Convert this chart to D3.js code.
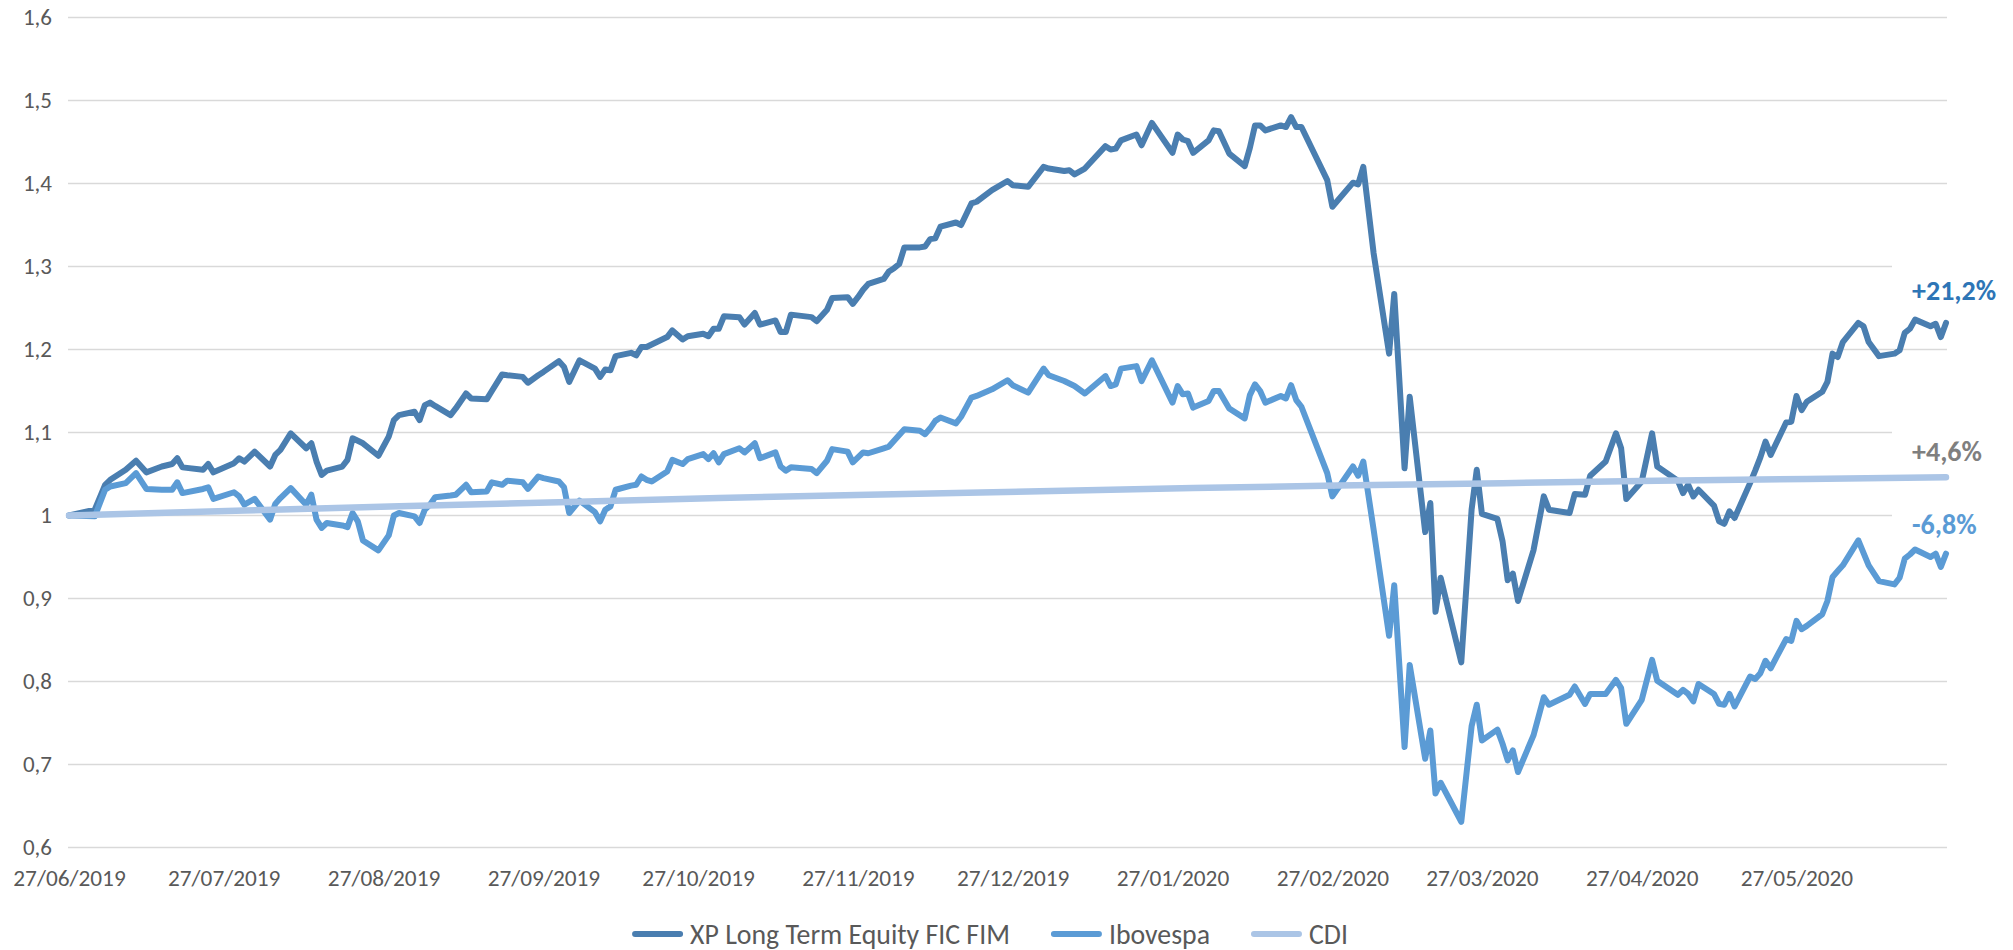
<!DOCTYPE html>
<html>
<head>
<meta charset="utf-8">
<script src="https://cdn.jsdelivr.net/npm/d3@7"></script>
<style>
  body { margin: 0; background: #fff; }
  svg { display: block; font-family: Carlito, Calibri, Lato, "Open Sans", sans-serif; }
</style>
</head>
<body>
<div id="chart"></div>
<script>
// series names (legend order = drawing order)
const seriesNames = ["XP Long Term Equity FIC FIM", "Ibovespa", "CDI"];
const endLabels = ["+21,2%", "-6,8%", "+4,6%"];

// trading days (XP and Ibovespa share the same days)
const dates = [
  "2019-06-27","2019-07-02","2019-07-04","2019-07-05","2019-07-08","2019-07-10","2019-07-12","2019-07-15","2019-07-17","2019-07-18","2019-07-19","2019-07-23","2019-07-24","2019-07-25","2019-07-29","2019-07-30","2019-07-31",
  "2019-08-02","2019-08-05","2019-08-06","2019-08-07","2019-08-09","2019-08-12","2019-08-13","2019-08-14","2019-08-15","2019-08-16","2019-08-19","2019-08-20","2019-08-21","2019-08-22","2019-08-23","2019-08-26","2019-08-28","2019-08-29","2019-08-30",
  "2019-09-02","2019-09-03","2019-09-04","2019-09-05","2019-09-06","2019-09-09","2019-09-10","2019-09-12","2019-09-13","2019-09-16","2019-09-17","2019-09-19","2019-09-20","2019-09-23","2019-09-24","2019-09-26","2019-09-27","2019-09-30",
  "2019-10-01","2019-10-02","2019-10-04","2019-10-07","2019-10-08","2019-10-09","2019-10-10","2019-10-11","2019-10-14","2019-10-15","2019-10-16","2019-10-17","2019-10-18","2019-10-21","2019-10-22","2019-10-24","2019-10-25","2019-10-28","2019-10-29","2019-10-30","2019-10-31",
  "2019-11-01","2019-11-04","2019-11-05","2019-11-07","2019-11-08","2019-11-11","2019-11-12","2019-11-13","2019-11-14","2019-11-18","2019-11-19","2019-11-21","2019-11-22","2019-11-25","2019-11-26","2019-11-27","2019-11-28","2019-11-29",
  "2019-12-02","2019-12-03","2019-12-04","2019-12-05","2019-12-06","2019-12-09","2019-12-10","2019-12-11","2019-12-12","2019-12-13","2019-12-16","2019-12-17","2019-12-19","2019-12-20","2019-12-23","2019-12-26","2019-12-27","2019-12-30",
  "2020-01-02","2020-01-03","2020-01-06","2020-01-07","2020-01-08","2020-01-10","2020-01-14","2020-01-15","2020-01-16","2020-01-17","2020-01-20","2020-01-21","2020-01-23","2020-01-27","2020-01-28","2020-01-29","2020-01-30","2020-01-31",
  "2020-02-03","2020-02-04","2020-02-05","2020-02-07","2020-02-10","2020-02-11","2020-02-12","2020-02-13","2020-02-14","2020-02-17","2020-02-18","2020-02-19","2020-02-20","2020-02-21","2020-02-26","2020-02-27",
  "2020-03-02","2020-03-03","2020-03-04","2020-03-06","2020-03-09","2020-03-10","2020-03-12","2020-03-13","2020-03-16","2020-03-17","2020-03-18","2020-03-19","2020-03-23","2020-03-25","2020-03-26","2020-03-27","2020-03-30","2020-03-31",
  "2020-04-01","2020-04-02","2020-04-03","2020-04-06","2020-04-08","2020-04-09","2020-04-13","2020-04-14","2020-04-16","2020-04-17","2020-04-20","2020-04-22","2020-04-23","2020-04-24","2020-04-27","2020-04-29","2020-04-30",
  "2020-05-04","2020-05-05","2020-05-06","2020-05-07","2020-05-08","2020-05-11","2020-05-12","2020-05-13","2020-05-14","2020-05-15","2020-05-18","2020-05-19","2020-05-20","2020-05-21","2020-05-22","2020-05-25","2020-05-26","2020-05-27","2020-05-28","2020-05-29",
  "2020-06-01","2020-06-02","2020-06-03","2020-06-04","2020-06-05","2020-06-08","2020-06-09","2020-06-10","2020-06-12","2020-06-15","2020-06-16","2020-06-17","2020-06-18","2020-06-19","2020-06-22","2020-06-23","2020-06-24","2020-06-25"
];

const xpValues = [
  1.000,1.007,1.037,1.043,1.055,1.066,1.052,1.059,1.062,1.069,1.058,1.055,1.062,1.052,1.063,1.069,1.065,
  1.077,1.059,1.073,1.079,1.099,1.081,1.087,1.065,1.049,1.054,1.059,1.067,1.093,1.090,1.087,1.072,1.095,1.115,1.121,
  1.125,1.115,1.133,1.136,1.132,1.121,1.129,1.147,1.141,1.140,1.150,1.170,1.169,1.167,1.160,1.169,1.173,1.186,
  1.179,1.161,1.187,1.177,1.167,1.176,1.175,1.192,1.196,1.193,1.203,1.203,1.206,1.215,1.223,1.212,1.216,1.219,1.216,1.225,1.225,
  1.240,1.239,1.230,1.244,1.230,1.235,1.221,1.221,1.242,1.239,1.234,1.248,1.262,1.263,1.255,1.263,1.272,1.279,
  1.285,1.294,1.298,1.303,1.323,1.323,1.324,1.333,1.334,1.348,1.353,1.350,1.376,1.378,1.392,1.403,1.398,1.396,
  1.420,1.418,1.415,1.416,1.411,1.418,1.445,1.441,1.442,1.452,1.459,1.446,1.473,1.437,1.459,1.453,1.451,1.437,
  1.452,1.464,1.463,1.436,1.421,1.443,1.470,1.470,1.464,1.470,1.468,1.480,1.468,1.468,1.404,1.372,
  1.401,1.399,1.420,1.316,1.195,1.267,1.057,1.143,0.980,1.015,0.884,0.925,0.823,1.007,1.055,1.002,0.996,0.969,
  0.922,0.930,0.897,0.958,1.023,1.007,1.003,1.026,1.025,1.048,1.065,1.099,1.081,1.020,1.041,1.099,1.059,
  1.042,1.027,1.037,1.023,1.031,1.012,0.993,0.990,1.005,0.997,1.039,1.054,1.070,1.089,1.073,1.112,1.113,1.144,1.127,1.137,
  1.149,1.161,1.195,1.191,1.209,1.232,1.228,1.209,1.192,1.195,1.199,1.220,1.225,1.236,1.228,1.231,1.215,1.232
];

const ibovValues = [
  1.000,0.999,1.031,1.035,1.039,1.051,1.032,1.031,1.031,1.040,1.027,1.032,1.034,1.020,1.028,1.023,1.013,
  1.020,0.995,1.014,1.021,1.033,1.013,1.025,0.995,0.985,0.991,0.988,0.986,1.003,0.993,0.970,0.958,0.976,1.000,1.003,
  0.999,0.991,1.007,1.013,1.022,1.024,1.025,1.037,1.028,1.029,1.040,1.037,1.042,1.040,1.032,1.047,1.045,1.041,
  1.034,1.003,1.018,1.004,0.993,1.007,1.011,1.031,1.036,1.037,1.047,1.043,1.041,1.053,1.067,1.062,1.068,1.074,1.068,1.075,1.064,
  1.074,1.081,1.076,1.087,1.069,1.076,1.059,1.054,1.058,1.056,1.051,1.066,1.080,1.077,1.064,1.070,1.076,1.075,
  1.081,1.083,1.090,1.097,1.104,1.102,1.098,1.105,1.114,1.118,1.111,1.119,1.142,1.144,1.152,1.163,1.157,1.148,
  1.177,1.169,1.162,1.159,1.156,1.147,1.168,1.156,1.158,1.177,1.180,1.162,1.187,1.136,1.156,1.146,1.147,1.130,
  1.138,1.150,1.150,1.129,1.117,1.145,1.158,1.150,1.136,1.144,1.141,1.157,1.139,1.131,1.051,1.023,
  1.059,1.048,1.065,0.983,0.855,0.916,0.721,0.820,0.707,0.741,0.665,0.678,0.631,0.746,0.772,0.729,0.742,0.725,
  0.705,0.717,0.691,0.735,0.781,0.772,0.784,0.794,0.773,0.785,0.785,0.802,0.792,0.749,0.778,0.826,0.801,
  0.784,0.790,0.785,0.776,0.797,0.785,0.773,0.772,0.785,0.770,0.806,0.803,0.810,0.825,0.816,0.851,0.849,0.873,0.863,0.867,
  0.881,0.897,0.926,0.933,0.940,0.970,0.955,0.940,0.921,0.917,0.925,0.948,0.953,0.959,0.950,0.954,0.938,0.954
];

// CDI is almost a straight line, read at month ends
const cdiDates = ["2019-06-27","2019-07-31","2019-08-30","2019-09-30","2019-10-31","2019-11-29","2019-12-30",
                  "2020-01-31","2020-02-28","2020-03-31","2020-04-30","2020-05-29","2020-06-25"];
const cdiValues = [1.000,1.006,1.011,1.016,1.021,1.025,1.029,1.033,1.036,1.039,1.042,1.044,1.046];

const yTicks = [0.6,0.7,0.8,0.9,1.0,1.1,1.2,1.3,1.4,1.5,1.6];
const xTickLabels = ["27/06/2019","27/07/2019","27/08/2019","27/09/2019","27/10/2019","27/11/2019",
                     "27/12/2019","27/01/2020","27/02/2020","27/03/2020","27/04/2020","27/05/2020"];

// chart size and plot area
var width = 2013;
var height = 950;
var plot = { left: 69, right: 1946, top: 17.5, bottom: 847.5 };

var colors = ["#4a7eb0", "#5b9bd5", "#abc5e6"];
var labelColors = ["#2e75b6", "#5b9bd5", "#7f7f7f"];
var labelDy = [-23, -20, -16];
var textColor = "#595959";

var parseDate = d3.timeParse("%Y-%m-%d");
var parseTick = d3.timeParse("%d/%m/%Y");
var ptBR = d3.formatLocale({ decimal: ",", thousands: ".", grouping: [3], currency: ["R$", ""] });
var yFormat = ptBR.format(".2~f");

var series = [
  dates.map(function(d, i){ return [parseDate(d), xpValues[i]]; }),
  dates.map(function(d, i){ return [parseDate(d), ibovValues[i]]; }),
  cdiDates.map(function(d, i){ return [parseDate(d), cdiValues[i]]; })
];

const svg = d3.select("#chart")
    .append("svg")
    .attr("width", width)
    .attr("height", height);

var xScale = d3.scaleTime()
    .domain([parseDate(dates[0]), parseDate(dates[dates.length - 1])])
    .range([plot.left, plot.right]);

var yScale = d3.scaleLinear()
    .domain([0.6, 1.6])
    .range([plot.bottom, plot.top]);

// horizontal gridlines
svg.append("g")
    .selectAll("line")
    .data(yTicks)
    .enter()
    .append("line")
    .attr("x1", plot.left - 1)
    .attr("x2", plot.right + 1)
    .attr("y1", function(d){ return yScale(d); })
    .attr("y2", function(d){ return yScale(d); })
    .attr("stroke", "#d9d9d9")
    .attr("stroke-width", 1.5);

// y axis labels, no domain line
var yAxis = d3.axisLeft(yScale)
    .tickValues(yTicks)
    .tickFormat(yFormat)
    .tickSize(0)
    .tickPadding(0);

svg.append("g")
    .attr("transform", "translate(" + (plot.left - 17) + ",0)")
    .call(yAxis)
    .attr("font-family", null)
    .attr("font-size", 23)
    .call(function(g){ g.select(".domain").remove(); })
    .selectAll("text")
    .attr("fill", textColor);

// x axis: one label per month, on the 27th
var xAxis = d3.axisBottom(xScale)
    .tickValues(xTickLabels.map(parseTick))
    .tickFormat(d3.timeFormat("%d/%m/%Y"))
    .tickSize(0)
    .tickPadding(0);

svg.append("g")
    .attr("transform", "translate(0," + (plot.bottom + 22) + ")")
    .call(xAxis)
    .attr("font-family", null)
    .attr("font-size", 23.3)
    .call(function(g){ g.select(".domain").remove(); })
    .selectAll("text")
    .attr("fill", textColor);

var lineGroup = svg.append("g");
var labelGroup = svg.append("g");

var linePath = d3.line()
    .x(function(d){ return xScale(d[0]); })
    .y(function(d){ return yScale(d[1]); });

// lines, drawn in legend order so CDI ends on top
series.forEach(function(s, i){
    lineGroup.append("path")
        .attr("d", linePath(s))
        .attr("fill", "none")
        .attr("stroke", colors[i])
        .attr("stroke-width", i == 2 ? 6.5 : 6)
        .attr("stroke-linecap", "round")
        .attr("stroke-linejoin", "round");
});

// end labels with white boxes that hide the gridlines
series.forEach(function(s, i){
    var last = s[s.length - 1];
    var box = labelGroup.append("rect").attr("fill", "#fff");
    var t = labelGroup.append("text")
        .attr("x", xScale(last[0]) - 34)
        .attr("y", yScale(last[1]) + labelDy[i])
        .attr("font-size", 28)
        .attr("font-weight", "bold")
        .attr("fill", labelColors[i])
        .text(endLabels[i]);
    var bb = t.node().getBBox();
    box.attr("x", bb.x - 20)
        .attr("y", bb.y - 8)
        .attr("width", bb.width + 40)
        .attr("height", bb.height + 10);
});
// boxes go under the lines, text stays on top
labelGroup.selectAll("rect").each(function(){ svg.node().insertBefore(this, lineGroup.node()); });

// legend, centred under the plot
var legend = svg.append("g");
var legendX = 0;
seriesNames.forEach(function(name, i){
    var item = legend.append("g").attr("transform", "translate(" + legendX + ",0)");
    item.append("line")
        .attr("x1", 3).attr("x2", 48)
        .attr("y1", 0).attr("y2", 0)
        .attr("stroke", colors[i])
        .attr("stroke-width", 6)
        .attr("stroke-linecap", "round");
    var txt = item.append("text")
        .attr("x", 58)
        .attr("y", 0)
        .attr("dy", "0.35em")
        .attr("font-size", 27.8)
        .attr("fill", textColor)
        .text(name);
    legendX += 58 + txt.node().getComputedTextLength() + 41;
});
legendX -= 41;
legend.attr("transform", "translate(" + (990 - legendX / 2) + ",934)");
</script>
</body>
</html>
